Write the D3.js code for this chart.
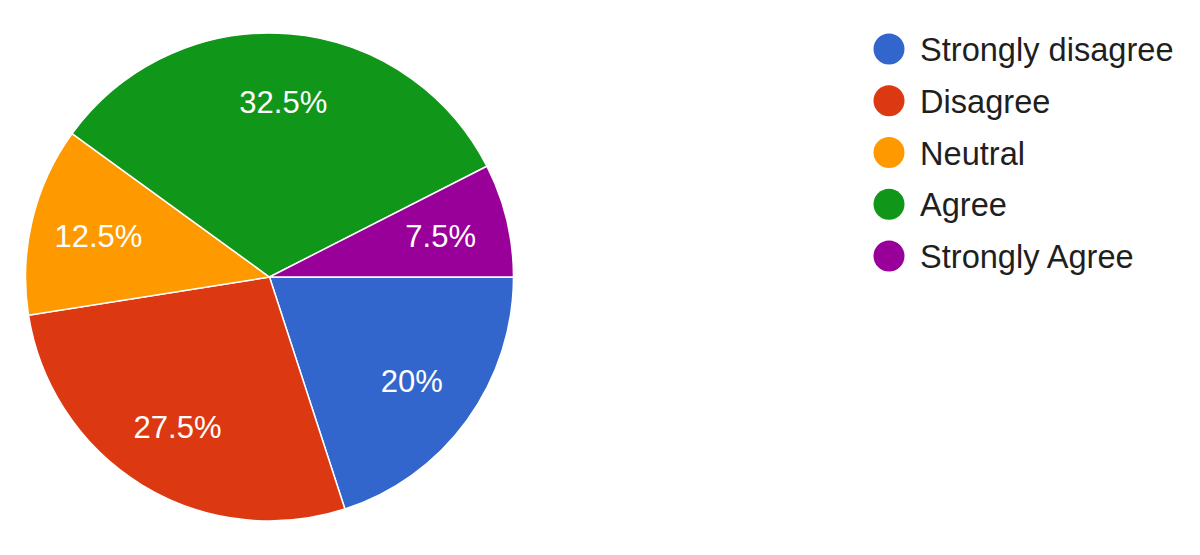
<!DOCTYPE html>
<html><head><meta charset="utf-8">
<script src="https://cdn.jsdelivr.net/npm/d3@7"></script>
<style>html,body{margin:0;padding:0;background:#fff;}svg{display:block;}</style>
</head><body>
<svg id="chart" width="1200" height="555"></svg>
<script>
const categories = ["Strongly disagree", "Disagree", "Neutral", "Agree", "Strongly Agree"];
const values = [20, 27.5, 12.5, 32.5, 7.5];
const labels = ["20%", "27.5%", "12.5%", "32.5%", "7.5%"];
const colors = ["#3366cc", "#dc3912", "#ff9900", "#109618", "#990099"];

const svg = d3.select("#chart");
const cx = 269.5, cy = 277, R = 244;
const font = "'Liberation Sans', Arial, sans-serif";

const data = categories.map((c, i) => ({cat: c, value: values[i], label: labels[i], color: colors[i]}));
const pie = d3.pie().sort(null).value(d => d.value).startAngle(Math.PI / 2).endAngle(Math.PI / 2 + 2 * Math.PI);
const arcs = pie(data);
const arc = d3.arc().innerRadius(0).outerRadius(R);
const labelArc = d3.arc().innerRadius(176).outerRadius(176);

const g = svg.append("g").attr("transform", `translate(${cx},${cy})`);
g.selectAll("path").data(arcs).join("path")
  .attr("d", arc)
  .attr("fill", d => d.data.color)
  .attr("stroke", "#fff")
  .attr("stroke-width", 1.5);

g.selectAll("text").data(arcs).join("text")
  .attr("transform", d => `translate(${labelArc.centroid(d)})`)
  .attr("text-anchor", "middle")
  .attr("dy", "0.36em")
  .attr("fill", "#fff")
  .attr("font-family", font)
  .attr("font-size", 31)
  .text(d => d.data.label);

const color = d3.scaleOrdinal().domain(categories).range(colors);
const ly = d3.scalePoint().domain(categories).range([49, 256]);
const leg = svg.append("g");
const items = leg.selectAll("g").data(categories).join("g")
  .attr("transform", d => `translate(889,${ly(d)})`);
items.append("circle").attr("r", 15.5).attr("fill", d => color(d));
items.append("text")
  .attr("x", 31)
  .attr("dy", "0.37em")
  .attr("fill", "#1f1f1f")
  .attr("font-family", font)
  .attr("font-size", 32.6)
  .text(d => d);
</script>
</body></html>
